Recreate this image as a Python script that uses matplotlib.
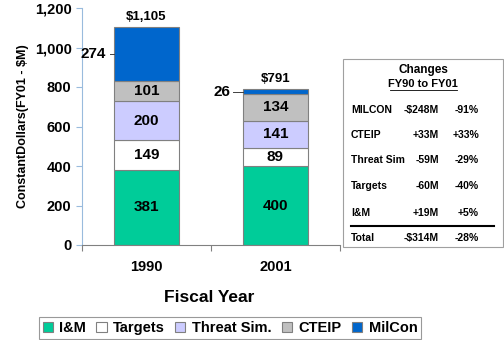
import matplotlib
matplotlib.use("Agg")
import matplotlib.pyplot as plt
from matplotlib.patches import Rectangle
import numpy as np

years = ["1990", "2001"]
series = ["I&M", "Targets", "Threat Sim.", "CTEIP", "MilCon"]
im = [381, 400]
targets = [149, 89]
threat = [200, 141]
cteip = [101, 134]
milcon = [274, 26]
totals = ["$1,105", "$791"]
colors = ["#00CC99", "#FFFFFF", "#CCCCFF", "#C0C0C0", "#0066CC"]

tbl_rows = [("MILCON", "-$248M", "-91%"),
            ("CTEIP", "+33M", "+33%"),
            ("Threat Sim", "-59M", "-29%"),
            ("Targets", "-60M", "-40%"),
            ("I&M", "+19M", "+5%")]
tbl_total = ("Total", "-$314M", "-28%")

plt.rcParams['font.family'] = ['Liberation Sans', 'DejaVu Sans']

fig = plt.figure(figsize=(5.04, 3.4), dpi=100)
W, H = 504, 340
ax = fig.add_axes([82 / W, 1 - 245 / H, 258 / W, (245 - 8) / H])

x = np.array([0.5, 1.5])
data = [im, targets, threat, cteip, milcon]
leader = [(0.03, 0.035), (0.08, 0.02)]
bottom = np.zeros(2)
for vals, c, name in zip(data, colors, series):
    v = np.array(vals, dtype=float)
    ax.bar(x, v, width=0.5, bottom=bottom, color=c, edgecolor="#808080",
           linewidth=0.8, label=name)
    for i in range(2):
        if name == "MilCon":
            ypos = bottom[i] + v[i] / 2
            xl = x[i] - 0.25
            ll, gap = leader[i]
            ax.plot([xl - ll, xl], [ypos, ypos], color="#404040", lw=0.7,
                    clip_on=False)
            ax.text(xl - ll - gap, ypos, str(vals[i]), ha="right", va="center",
                    fontsize=11, fontweight="bold")
        else:
            ax.text(x[i], bottom[i] + v[i] / 2, str(vals[i]), ha="center",
                    va="center", fontsize=11, fontweight="bold")
    bottom += v

for i in range(2):
    ax.text(x[i], bottom[i] + 18, totals[i], ha="center", va="bottom",
            fontsize=9.5, fontweight="bold")

ax.set_xlim(0, 2)
ax.set_ylim(0, 1200)
ax.set_yticks(np.arange(0, 1201, 200))
ax.set_yticklabels([f"{v:,}" for v in range(0, 1201, 200)], fontsize=10.5,
                   fontweight="bold")
ax.set_xticks([0, 1, 2])
ax.set_xticklabels([])
ax.tick_params(axis="x", length=4, color="#808080", direction="out")
ax.tick_params(axis="y", length=4, color="#99BBDD", direction="out")
for i, yr in enumerate(years):
    ax.text(x[i], -0.093, yr, transform=ax.get_xaxis_transform(), ha="center",
            va="center", fontsize=10.5, fontweight="bold")
ax.spines["top"].set_visible(False)
ax.spines["right"].set_visible(False)
ax.spines["left"].set_color("#99BBDD")
ax.spines["bottom"].set_color("#808080")
ax.set_ylabel("ConstantDollars(FY01 - $M)", fontsize=9, fontweight="bold",
              labelpad=4)
fig.text(209 / W, 1 - 298 / H, "Fiscal Year", ha="center", va="center",
         fontsize=12.5, fontweight="bold")

handles, labels = ax.get_legend_handles_labels()
leg = fig.legend(handles, labels, loc="center", bbox_to_anchor=(230 / W, 1 - 328 / H),
                 ncol=5, prop={"weight": "bold", "size": 10.5},
                 frameon=True, fancybox=False, edgecolor="#808080",
                 handlelength=0.7, handleheight=0.7, handletextpad=0.45,
                 columnspacing=0.7, borderpad=0.25, borderaxespad=0)
leg.get_frame().set_linewidth(0.8)

# changes table
bx0, by0, bx1, by1 = 343, 59, 503, 247
fig.patches.append(Rectangle((bx0 / W, 1 - by1 / H), (bx1 - bx0) / W,
                             (by1 - by0) / H, transform=fig.transFigure,
                             facecolor="white", edgecolor="#A0A0A0", lw=0.8))
fig.text(423 / W, 1 - 70 / H, "Changes", ha="center", va="center",
         fontsize=8.5, fontweight="bold")
fig.text(423 / W, 1 - 84 / H, "FY90 to FY01", ha="center", va="center",
         fontsize=8, fontweight="bold")
fig.lines.append(plt.Line2D([390 / W, 457 / W], [1 - 90.5 / H, 1 - 90.5 / H],
                            transform=fig.transFigure, color="black", lw=0.6))
row_y = [110, 135, 160, 186, 213]
fs = 7.5
for (a, b, c), yy in zip(tbl_rows, row_y):
    fig.text(351 / W, 1 - yy / H, a, ha="left", va="center", fontsize=fs,
             fontweight="bold")
    fig.text(439 / W, 1 - yy / H, b, ha="right", va="center", fontsize=fs,
             fontweight="bold")
    fig.text(479 / W, 1 - yy / H, c, ha="right", va="center", fontsize=fs,
             fontweight="bold")
fig.lines.append(plt.Line2D([351 / W, 494 / W], [1 - 225.5 / H, 1 - 225.5 / H],
                            transform=fig.transFigure, color="black", lw=1.5))
a, b, c = tbl_total
fig.text(351 / W, 1 - 238 / H, a, ha="left", va="center", fontsize=fs,
         fontweight="bold")
fig.text(439 / W, 1 - 238 / H, b, ha="right", va="center", fontsize=fs,
         fontweight="bold")
fig.text(479 / W, 1 - 238 / H, c, ha="right", va="center", fontsize=fs,
         fontweight="bold")

fig.savefig("out.png", dpi=100)
